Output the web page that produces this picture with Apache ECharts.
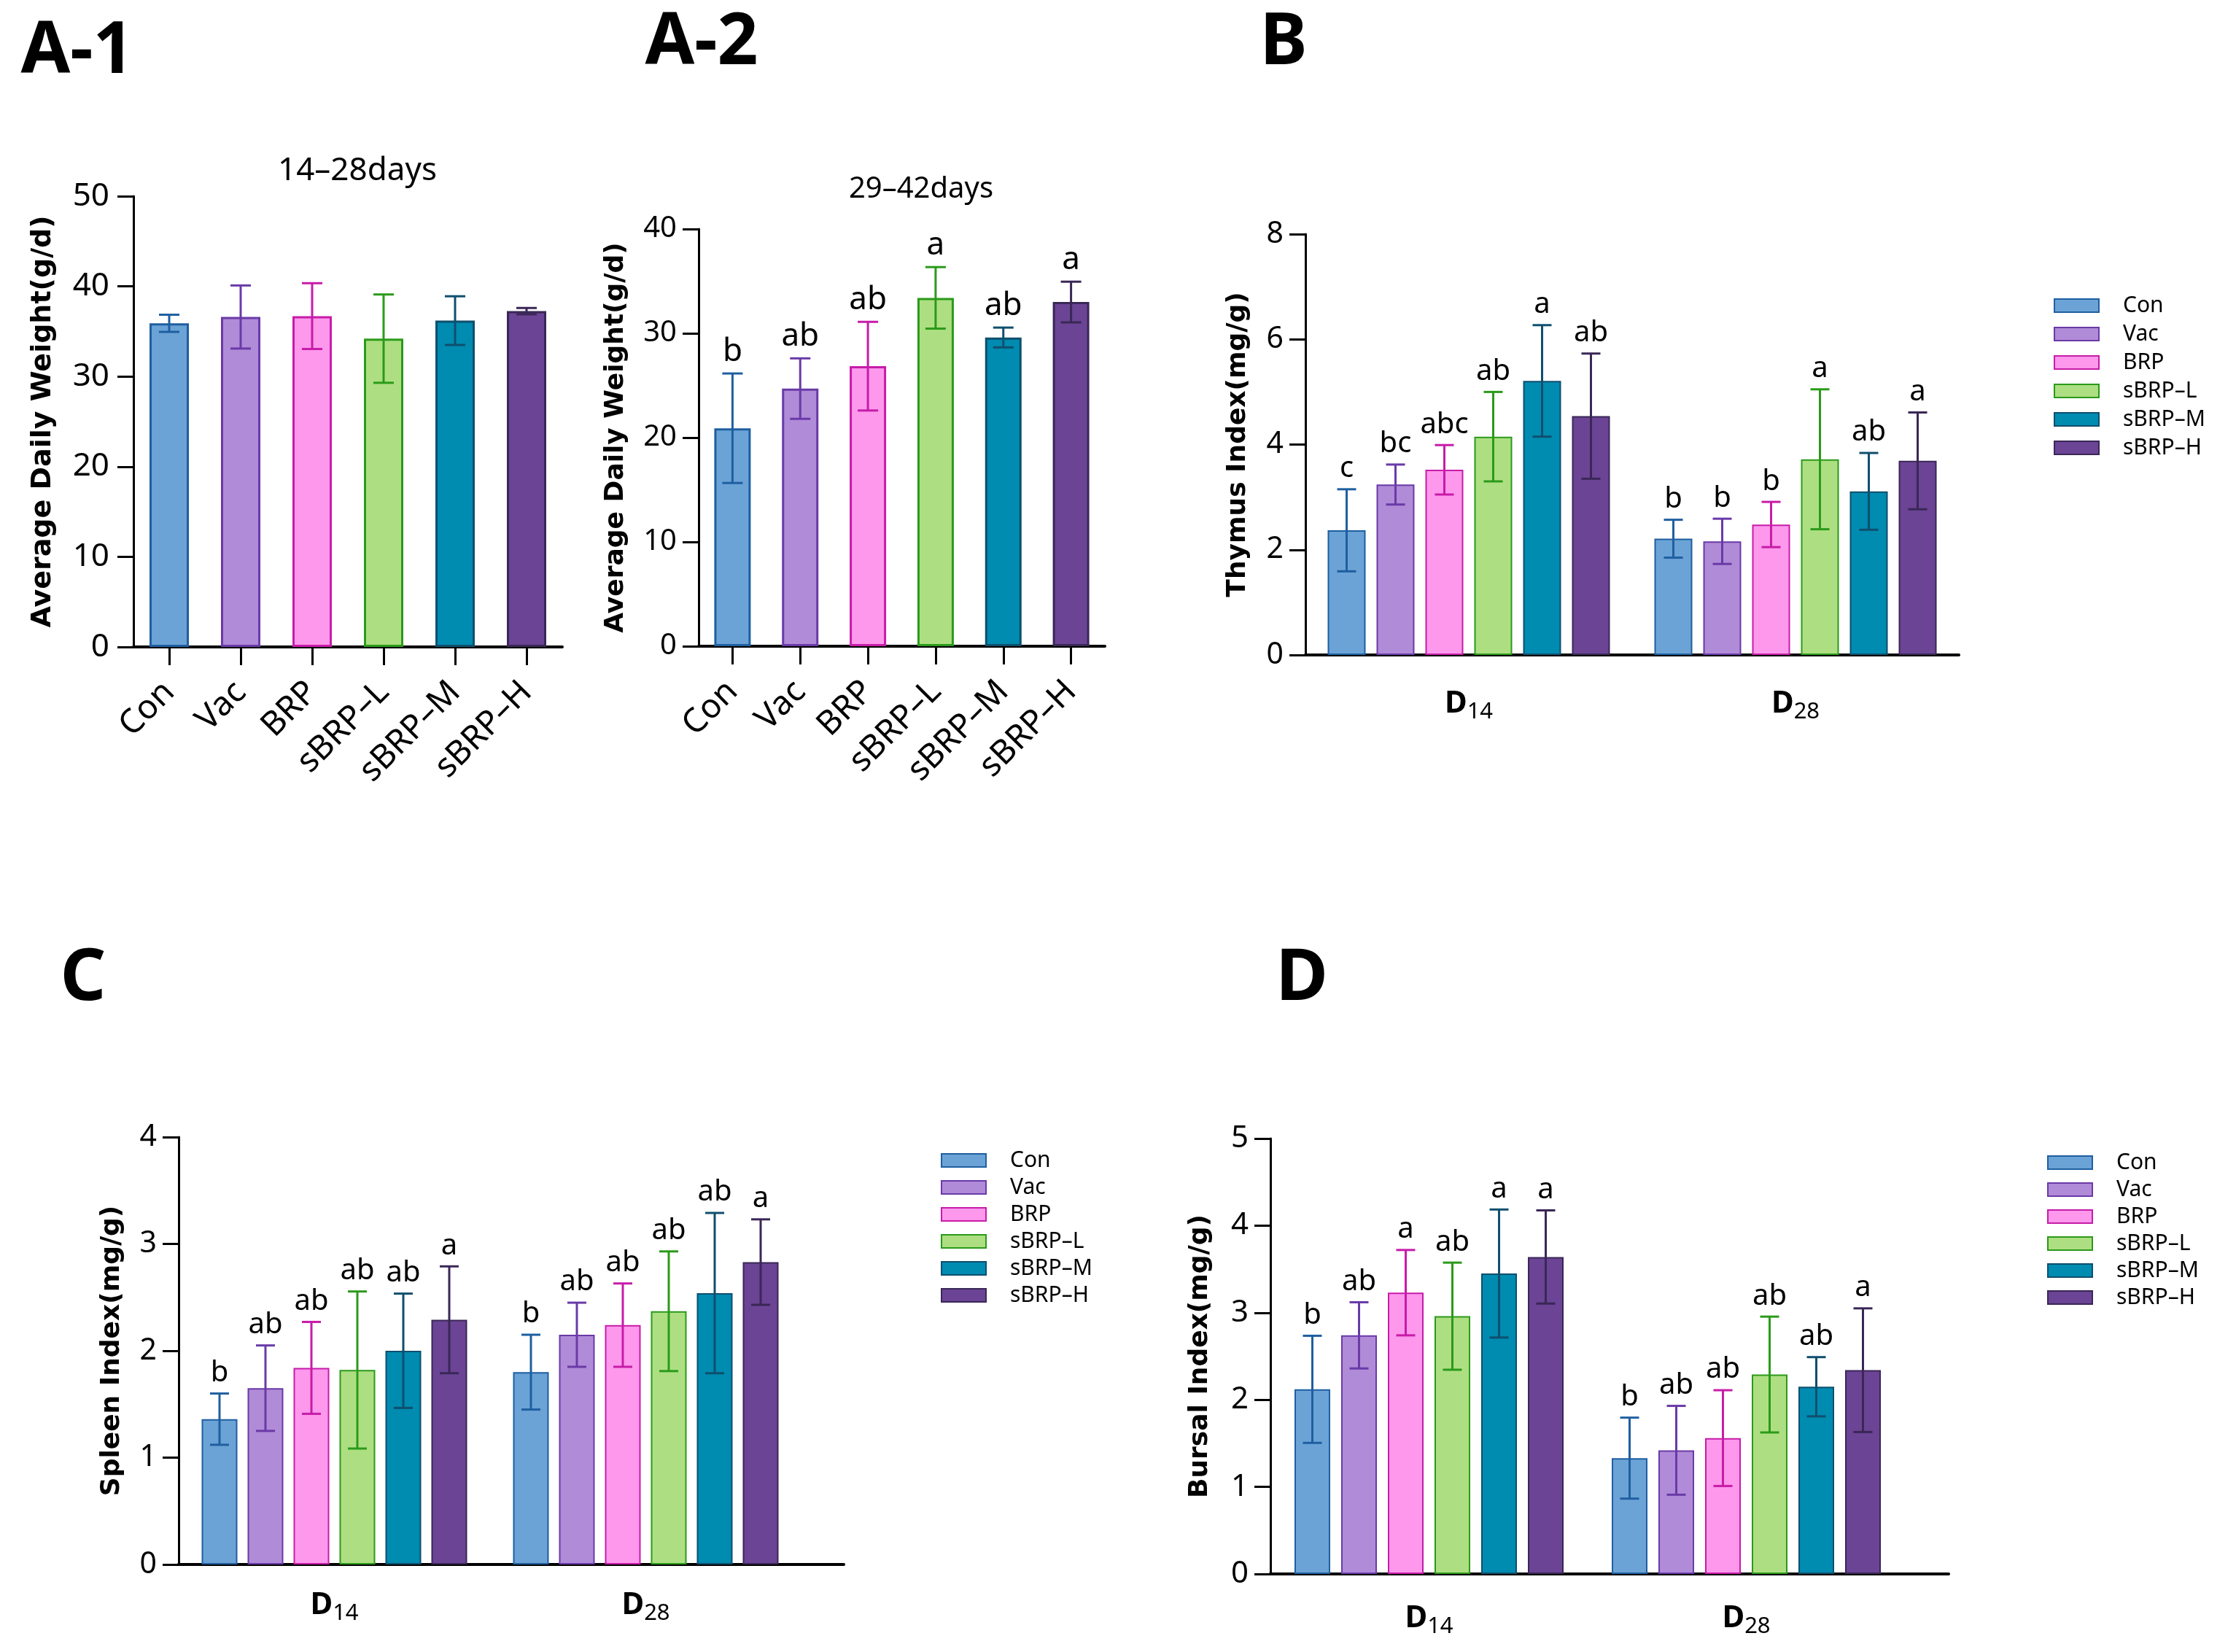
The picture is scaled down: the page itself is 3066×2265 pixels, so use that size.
<!DOCTYPE html>
<html><head><meta charset="utf-8">
<script src="https://cdn.jsdelivr.net/npm/echarts@6/dist/echarts.min.js"></script>
<style>html,body{margin:0;padding:0;background:#fff}#c{width:3066px;height:2265px}</style>
</head><body><div id="c"></div>
<script>
// ---------------- DATA ----------------
const groups = ['Con', 'Vac', 'BRP', 'sBRP–L', 'sBRP–M', 'sBRP–H'];
const days = ['D14', 'D28'];

// A-1: 14–28 days average daily weight (g/d)
const a1Mean = [35.9, 36.6, 36.7, 34.2, 36.2, 37.25];
const a1Sd   = [0.95, 3.5, 3.65, 4.9, 2.7, 0.35];
const a1Sig  = ['', '', '', '', '', ''];

// A-2: 29–42 days average daily weight (g/d)
const a2Mean = [20.9, 24.7, 26.85, 33.4, 29.6, 33.0];
const a2Sd   = [5.25, 2.9, 4.25, 2.95, 0.95, 1.95];
const a2Sig  = ['b', 'ab', 'ab', 'a', 'ab', 'a'];

// B: thymus index (mg/g)
const thymusMeanD14 = [2.37, 3.24, 3.52, 4.15, 5.21, 4.54];
const thymusSdD14   = [0.78, 0.38, 0.47, 0.85, 1.06, 1.19];
const thymusSigD14  = ['c', 'bc', 'abc', 'ab', 'a', 'ab'];
const thymusMeanD28 = [2.21, 2.16, 2.48, 3.72, 3.11, 3.69];
const thymusSdD28   = [0.36, 0.43, 0.43, 1.33, 0.73, 0.92];
const thymusSigD28  = ['b', 'b', 'b', 'a', 'ab', 'a'];

// C: spleen index (mg/g)
const spleenMeanD14 = [1.36, 1.65, 1.84, 1.82, 2.0, 2.29];
const spleenSdD14   = [0.24, 0.40, 0.43, 0.735, 0.535, 0.50];
const spleenSigD14  = ['b', 'ab', 'ab', 'ab', 'ab', 'a'];
const spleenMeanD28 = [1.80, 2.15, 2.24, 2.37, 2.54, 2.83];
const spleenSdD28   = [0.35, 0.30, 0.39, 0.56, 0.75, 0.40];
const spleenSigD28  = ['b', 'ab', 'ab', 'ab', 'ab', 'a'];

// D: bursal index (mg/g)
const bursalMeanD14 = [2.12, 2.74, 3.23, 2.96, 3.45, 3.64];
const bursalSdD14   = [0.615, 0.38, 0.49, 0.615, 0.735, 0.535];
const bursalSigD14  = ['b', 'ab', 'a', 'ab', 'a', 'a'];
const bursalMeanD28 = [1.33, 1.42, 1.56, 2.29, 2.15, 2.34];
const bursalSdD28   = [0.465, 0.51, 0.55, 0.665, 0.34, 0.71];
const bursalSigD28  = ['b', 'ab', 'ab', 'ab', 'ab', 'a'];

// ---------------- STYLE ----------------
const fillColors = ['#6ba3d6', '#b08bd8', '#fd98ec', '#addf82', '#008bb0', '#6b4495'];
const edgeColors = ['#1f5fa0', '#6a3aa8', '#c71ca8', '#2b9a1a', '#0f4f6e', '#3a2756'];
const FONT = "'Noto Sans', 'Open Sans', sans-serif";
const NAMEFONT = "'DejaVu Sans', sans-serif";

const grids = [], xAxes = [], yAxes = [], series = [], legends = [], graphics = [];

function makeErr(getOffset, getColor, sigArr, fontSize, capHalf) {
  return function (params, api) {
    const i = params.dataIndex;
    const cat = api.value(0);
    const lo = api.coord([cat, api.value(2)]);
    const hi = api.coord([cat, api.value(3)]);
    const x = lo[0] + getOffset(i);
    const ls = { stroke: getColor(i), lineWidth: 3, fill: null };
    const children = [
      { type: 'line', shape: { x1: x, y1: lo[1], x2: x, y2: hi[1] }, style: ls },
      { type: 'line', shape: { x1: x - capHalf, y1: hi[1], x2: x + capHalf, y2: hi[1] }, style: ls },
      { type: 'line', shape: { x1: x - capHalf, y1: lo[1], x2: x + capHalf, y2: lo[1] }, style: ls }
    ];
    if (sigArr && sigArr[i]) {
      children.push({ type: 'text', x: x, y: hi[1] - 8,
        style: { text: sigArr[i], fill: '#000', font: fontSize + 'px ' + FONT, align: 'center', verticalAlign: 'bottom' } });
    }
    return { type: 'group', children: children };
  };
}

function yAxisCfg(gi, L) {
  return {
    type: 'value', gridIndex: gi, min: 0, max: L.max, interval: L.interval,
    axisLine: { show: true, lineStyle: { color: '#000', width: 3 } },
    axisTick: { show: true, length: 22, lineStyle: { color: '#000', width: 3 } },
    axisLabel: { margin: L.labelMargin, fontSize: L.tickFont, color: '#000', fontFamily: FONT },
    splitLine: { show: false },
    name: L.yName, nameLocation: 'middle', nameGap: L.nameGap,
    nameTextStyle: { fontFamily: NAMEFONT, fontWeight: 'bold', fontSize: L.nameFont, color: '#000' }
  };
}

function addSimplePanel(L, mean, sd, sig) {
  const gi = grids.length;
  grids.push({ left: L.left, top: L.top, width: L.width, height: L.height });
  xAxes.push({
    type: 'category', gridIndex: gi, data: groups,
    axisLine: { show: true, lineStyle: { color: '#000', width: 4 } },
    axisTick: { show: true, alignWithLabel: true, length: 25, lineStyle: { color: '#000', width: 3 } },
    axisLabel: { interval: 0, rotate: 45, margin: L.catMargin, fontSize: L.catFont, color: '#000', fontFamily: FONT }
  });
  yAxes.push(yAxisCfg(gi, L));
  series.push({
    type: 'bar', xAxisIndex: gi, yAxisIndex: gi, barWidth: L.barWidth, silent: true,
    data: mean.map((v, i) => ({ value: v, itemStyle: { color: fillColors[i], borderColor: edgeColors[i], borderWidth: 3 } }))
  });
  series.push({
    type: 'custom', xAxisIndex: gi, yAxisIndex: gi, z: 5, silent: true,
    encode: { x: 0, y: 1 },
    data: mean.map((v, i) => [i, v, v - sd[i], v + sd[i]]),
    renderItem: makeErr(() => 0, i => edgeColors[i], sig, L.sigFont, 14)
  });
}

function addGroupedPanel(L, m14, s14, g14, m28, s28, g28) {
  const gi = grids.length;
  grids.push({ left: L.left, top: L.top, width: L.width, height: L.height });
  xAxes.push({
    type: 'category', gridIndex: gi, data: days,
    axisLine: { show: true, lineStyle: { color: '#000', width: 4 } },
    axisTick: { show: false },
    axisLabel: {
      interval: 0, margin: L.catMargin, color: '#000',
      formatter: v => '{d|' + v.charAt(0) + '}{s|' + v.slice(1) + '}',
      rich: {
        d: { fontFamily: FONT, fontWeight: 'bold', fontSize: 42, color: '#000' },
        s: { fontFamily: FONT, fontSize: 31, color: '#000', padding: [22, 0, 0, 0] }
      }
    }
  });
  yAxes.push(yAxisCfg(gi, L));
  const step = L.barWidth + L.gapPx;
  groups.forEach((name, i) => {
    series.push({
      name: name, type: 'bar', xAxisIndex: gi, yAxisIndex: gi, silent: true,
      barWidth: L.barWidth, barGap: (L.gapPx / L.barWidth * 100) + '%',
      itemStyle: { color: fillColors[i], borderColor: edgeColors[i], borderWidth: 2 },
      data: [m14[i], m28[i]]
    });
    const sigs = [g14[i], g28[i]];
    series.push({
      type: 'custom', xAxisIndex: gi, yAxisIndex: gi, z: 5, silent: true,
      encode: { x: 0, y: 1 },
      data: [[0, m14[i], m14[i] - s14[i], m14[i] + s14[i]], [1, m28[i], m28[i] - s28[i], m28[i] + s28[i]]],
      renderItem: makeErr(() => (i - 2.5) * step, () => edgeColors[i], sigs, L.sigFont, 13)
    });
  });
  if (L.axisEnd) {
    const ei = grids.length;
    grids.push({ left: L.left, top: L.top, width: L.axisEnd - L.left, height: L.height });
    xAxes.push({ type: 'value', gridIndex: ei, axisLine: { show: true, onZero: false, lineStyle: { color: '#000', width: 4 } },
      axisTick: { show: false }, axisLabel: { show: false }, splitLine: { show: false } });
    yAxes.push({ type: 'value', gridIndex: ei, show: false });
  }
  legends.push({
    orient: 'vertical', left: L.legLeft, top: L.legTop, itemWidth: 61, itemHeight: 18, itemGap: L.legGap,
    padding: 0, icon: 'rect', data: groups, selectedMode: false,
    itemStyle: { borderWidth: 2 },
    textStyle: { fontFamily: FONT, fontSize: 30, color: '#000', padding: [0, 0, 0, 28] }
  });
}

// ---------------- LAYOUT ----------------
addSimplePanel({ left: 183, top: 269, width: 588, height: 618, max: 50, interval: 10,
  yName: 'Average Daily Weight(g/d)', nameGap: 105, nameFont: 38, tickFont: 44, labelMargin: 33,
  catFont: 46, catMargin: 55, barWidth: 54, sigFont: 42 }, a1Mean, a1Sd, a1Sig);
addSimplePanel({ left: 958, top: 314, width: 557, height: 572, max: 40, interval: 10,
  yName: 'Average Daily Weight(g/d)', nameGap: 95, nameFont: 36, tickFont: 40, labelMargin: 30,
  catFont: 46, catMargin: 55, barWidth: 50, sigFont: 44 }, a2Mean, a2Sd, a2Sig);
addGroupedPanel({ left: 1790, top: 321, width: 896, height: 577, max: 8, interval: 2,
  yName: 'Thymus Index(mg/g)', nameGap: 74, nameFont: 36, tickFont: 41, labelMargin: 30,
  barWidth: 52, gapPx: 15, sigFont: 40, catMargin: 41, legLeft: 2816, legTop: 404, legGap: 9 },
  thymusMeanD14, thymusSdD14, thymusSigD14, thymusMeanD28, thymusSdD28, thymusSigD28);
addGroupedPanel({ left: 245, top: 1559, width: 854, height: 586, max: 4, interval: 1, axisEnd: 1157,
  yName: 'Spleen Index(mg/g)', nameGap: 73, nameFont: 36, tickFont: 41, labelMargin: 30,
  barWidth: 49, gapPx: 14, sigFont: 40, catMargin: 30, legLeft: 1290, legTop: 1576, legGap: 7 },
  spleenMeanD14, spleenSdD14, spleenSigD14, spleenMeanD28, spleenSdD28, spleenSigD28);
addGroupedPanel({ left: 1742, top: 1561, width: 870, height: 597, max: 5, interval: 1, axisEnd: 2672,
  yName: 'Bursal Index(mg/g)', nameGap: 78, nameFont: 36, tickFont: 42, labelMargin: 30,
  barWidth: 49, gapPx: 15, sigFont: 40, catMargin: 35, legLeft: 2807, legTop: 1579, legGap: 7 },
  bursalMeanD14, bursalSdD14, bursalSigD14, bursalMeanD28, bursalSdD28, bursalSigD28);

function label(text, x, y, size, bold) {
  graphics.push({ type: 'text', x: x, y: y, silent: true,
    style: { text: text, fill: '#000', font: (bold ? 'bold ' : '') + size + 'px ' + FONT, align: 'center', verticalAlign: 'middle' } });
}
label('A-1', 106, 72, 98, true);
label('A-2', 962, 60, 98, true);
label('B', 1760, 60, 98, true);
label('C', 114, 1343, 98, true);
label('D', 1785, 1343, 98, true);
label('14–28days', 490, 234, 44, false);
label('29–42days', 1263, 260, 40, false);

const chart = echarts.init(document.getElementById('c'), null, { renderer: 'canvas' });
chart.setOption({
  backgroundColor: '#fff',
  animation: false,
  grid: grids, xAxis: xAxes, yAxis: yAxes, series: series, legend: legends, graphic: graphics
});
</script></body></html>
